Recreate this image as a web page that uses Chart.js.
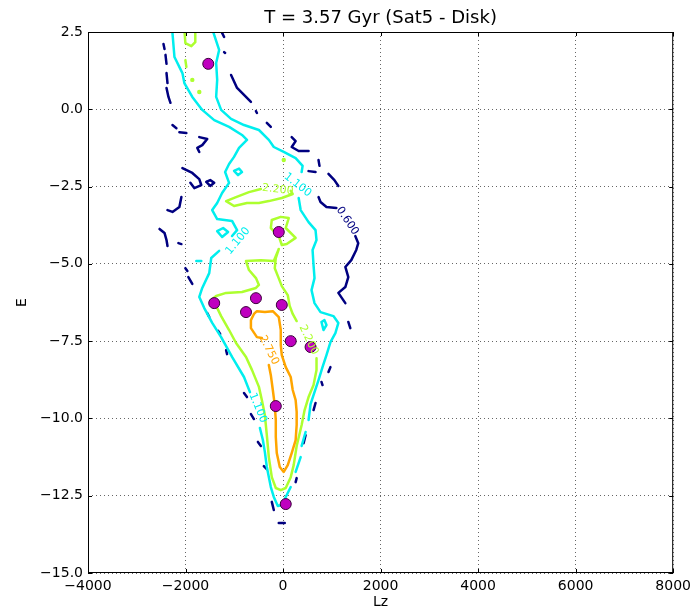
<!DOCTYPE html>
<html lang="en">
<head>
<meta charset="UTF-8">
<title>T = 3.57 Gyr (Sat5 - Disk)</title>
<script src="https://cdn.jsdelivr.net/npm/chart.js"></script>
<style>
  html, body { margin: 0; padding: 0; background: #fff; }
</style>
</head>
<body>
<canvas id="contours" width="696" height="614"></canvas>
<script>
const chartTitle = 'T = 3.57 Gyr (Sat5 - Disk)';

// axis ticks
const xTicks = [-4000, -2000, 0, 2000, 4000, 6000, 8000];
const yTicks = [-15, -12.5, -10, -7.5, -5, -2.5, 0, 2.5];

// contour levels, lowest first
const levelNames = ['0.600', '1.100', '2.200', '2.750'];
const levelColors = ['#000080', '#00eeee', '#adff2f', '#ffa500'];

// each level is a list of broken pieces, every piece a list of [Lz, E]
const navySegs = [
  [[-2452, 2.11], [-2431, 1.95]],
  [[-2411, 1.76], [-2390, 1.47]],
  [[-2390, 1.17], [-2370, 0.85]],
  [[-2390, 0.69], [-2350, 0.40], [-2309, 0.21]],
  [[-2268, -0.51], [-2187, -0.61]],
  [[-2126, -0.74], [-1983, -0.77]],
  [[-1718, -0.90], [-1555, -0.96], [-1657, -1.16], [-1759, -1.25], [-1718, -1.38]],
  [[-2064, -1.90], [-1861, -2.06], [-1718, -2.26], [-1677, -2.45], [-1820, -2.55], [-1901, -2.38]],
  [[-1575, -2.35], [-1494, -2.29], [-1412, -2.38], [-1494, -2.48], [-1575, -2.35]],
  [[-2085, -2.84], [-2126, -3.16], [-2268, -3.32], [-2370, -3.26]],
  [[-2533, -3.87], [-2431, -4.00], [-2390, -4.23], [-2370, -4.42]],
  [[-2146, -4.33], [-2085, -4.36]],
  [[-2003, -5.14], [-1962, -5.23]],
  [[-1942, -5.43], [-1861, -5.65]],
  [[-1555, -6.59], [-1514, -6.72]],
  [[-1331, -7.17], [-1290, -7.27]],
  [[-1168, -7.79], [-1148, -7.92]],
  [[-801, -9.18], [-740, -9.31]],
  [[-659, -9.86], [-597, -10.02]],
  [[-516, -10.76], [-455, -10.89]],
  [[-394, -11.54], [-333, -11.64]],
  [[-231, -12.70], [-190, -12.96]],
  [[-88, -13.38], [35, -13.38]],
  [[279, -11.93], [258, -12.06]],
  [[421, -10.80], [462, -10.54]],
  [[625, -9.73], [666, -9.50]],
  [[788, -8.82], [809, -8.92]],
  [[931, -8.50], [972, -8.34]],
  [[1338, -6.88], [1379, -7.08]],
  [[727, -2.84], [768, -3.00], [890, -3.16], [1094, -3.19]],
  [[1481, -4.10], [1542, -4.33], [1501, -4.55], [1399, -4.88], [1277, -5.10], [1338, -5.43], [1277, -5.75], [1134, -5.94], [1277, -6.27]],
  [[-1250, 2.47], [-1209, 2.34]],
  [[-1209, 1.85], [-1188, 1.82]],
  [[-1066, 1.11], [-943, 0.69], [-659, 0.24]],
  [[-556, -0.06], [-536, -0.12]],
  [[-333, -0.44], [-251, -0.57]],
  [[177, -0.90], [258, -1.03], [177, -1.22], [320, -1.35], [523, -1.35]],
  [[523, -2.00], [666, -2.03]],
  [[727, -1.64], [747, -1.83]],
  [[931, -2.09], [1053, -2.29], [1134, -2.48]]
];

const cyanSegs = [
  [[-2290, 2.6], [-2268, 2.47], [-2227, 1.69], [-2064, 1.17], [-2024, 0.85], [-1861, 0.40], [-1657, -0.02],
   [-1412, -0.35], [-1107, -0.57], [-842, -0.83], [-740, -0.99], [-903, -1.25], [-1005, -1.54], [-1107, -1.77],
   [-1188, -2.03], [-1107, -2.38], [-1250, -2.71], [-1351, -3.03], [-1453, -3.26], [-1351, -3.55], [-1046, -3.61],
   [-943, -3.91], [-1046, -4.10]],
  [[-1311, -4.58], [-1473, -4.81], [-1514, -5.30], [-1657, -5.78], [-1718, -6.07], [-1616, -6.43], [-1453, -6.91],
   [-1270, -7.37], [-1046, -8.01], [-801, -8.66], [-679, -9.15]],
  [[-475, -10.31], [-414, -10.70], [-373, -11.09], [-333, -11.57], [-251, -12.22], [-190, -12.54], [-108, -12.83],
   [-26, -12.80], [55, -12.54], [157, -12.22]],
  [[258, -11.73], [361, -11.25]],
  [[381, -10.89], [462, -10.44]],
  [[523, -10.05], [564, -9.54], [645, -9.15], [727, -8.76], [809, -8.34], [890, -7.95], [972, -7.53], [1073, -7.24],
   [1134, -6.91], [1033, -6.69], [768, -6.56], [645, -6.27], [584, -5.85], [645, -5.46], [625, -5.04], [605, -4.55],
   [686, -4.23], [666, -3.91], [523, -3.65], [361, -3.26], [320, -2.87]],
  [[381, -2.03], [401, -1.83], [258, -1.58], [14, -1.38], [-190, -1.22], [-292, -0.99], [-495, -0.67], [-801, -0.51],
   [-1066, -0.31], [-1270, -0.02], [-1372, 0.40], [-1351, 0.95], [-1372, 1.50], [-1311, 1.92], [-1453, 2.6]],
  [[-1005, -1.99], [-903, -1.92], [-842, -2.03], [-923, -2.13], [-1005, -1.99]],
  [[-1351, -3.94], [-1229, -3.84], [-1127, -3.97], [-1250, -4.13], [-1351, -3.94]],
  [[788, -6.88], [849, -6.82], [890, -6.98], [829, -7.14], [788, -6.88]],
  [[-1779, -4.91], [-1677, -4.91]]
];

const greenSegs = [
  [[157, -2.64], [198, -2.74], [-26, -2.87], [-292, -2.97], [-495, -3.03], [-740, -3.03], [-1005, -3.13],
   [-1168, -2.97], [-964, -2.84], [-699, -2.68], [-455, -2.58]],
  [[-231, -3.58], [-47, -3.48], [116, -3.52], [55, -3.84], [258, -4.16], [75, -4.36], [-26, -4.39], [-88, -4.10],
   [-251, -3.84], [-231, -3.58]],
  [[279, -6.85], [198, -6.62], [136, -6.36], [96, -6.01], [-26, -5.72], [-108, -5.39], [-170, -5.14], [-149, -4.81],
   [-88, -4.52], [-190, -4.91], [-455, -4.88], [-760, -4.91], [-699, -5.20], [-556, -5.46], [-495, -5.68],
   [-556, -5.78], [-842, -5.91], [-1168, -5.94], [-1372, -6.04], [-1473, -6.17], [-1372, -6.36], [-1270, -6.69],
   [-1107, -7.14], [-964, -7.56], [-760, -8.01], [-638, -8.43], [-495, -8.98], [-434, -9.41], [-373, -9.89],
   [-333, -10.54], [-292, -11.25], [-231, -11.90], [-149, -12.25], [-47, -12.32], [55, -12.25], [157, -11.90],
   [218, -11.51], [279, -10.89], [381, -10.21], [442, -9.73], [523, -9.31], [625, -8.92], [686, -8.43], [686, -8.05]],
  [[-2024, 2.6], [-2003, 2.14], [-1881, 2.04], [-1800, 2.17], [-1800, 2.6]],
  [[-2003, 1.59], [-1983, 1.37]]
];
const greenSpotsLz = [-1861, -1718, 14];
const greenSpotsE = [0.95, 0.56, -1.64];

const orangeSegs = [
  [[-434, -7.40], [-536, -7.37], [-659, -7.08], [-659, -6.82], [-597, -6.62], [-536, -6.53], [-373, -6.56],
   [-210, -6.53], [-88, -6.72], [-47, -7.14], [-47, -7.63], [-26, -7.95], [55, -8.34], [157, -8.66], [198, -9.08],
   [258, -9.41], [279, -9.79], [279, -10.21], [258, -10.70], [177, -11.12], [96, -11.51], [14, -11.73],
   [-67, -11.57], [-129, -11.12], [-149, -10.60], [-149, -10.05], [-170, -9.57], [-210, -9.08], [-251, -8.60],
   [-292, -8.27]]
];

// satellite particles
const dotsLz = [-1534, -88, -1412, -556, -760, -26, 157, 564, -149, 55];
const dotsE = [1.47, -3.97, -6.27, -6.11, -6.56, -6.33, -7.50, -7.69, -9.60, -12.77];

// inline contour labels: level, Lz, E, angle
const contourLabels = [
  [0, 1318, -3.61, 56],
  [1, 299, -2.45, 38],
  [1, -923, -4.26, -50],
  [1, -516, -9.66, 68],
  [2, -108, -2.60, 6],
  [2, 523, -7.46, 65],
  [3, -292, -7.79, 63]
];

const allLevels = [navySegs, cyanSegs, greenSegs, orangeSegs];
const datasets = [];

datasets.push({
  data: dotsLz.map((v, i) => ({ x: v, y: dotsE[i] })),
  pointRadius: 5.5,
  pointBackgroundColor: '#bf00bf',
  pointBorderColor: '#3a003a',
  pointBorderWidth: 1,
  showLine: false,
  order: 0
});
datasets.push({
  data: greenSpotsLz.map((v, i) => ({ x: v, y: greenSpotsE[i] })),
  pointRadius: 2.2,
  pointBackgroundColor: levelColors[2],
  pointBorderWidth: 0,
  showLine: false,
  order: 3
});

allLevels.forEach((segs, lvl) => {
  segs.forEach(seg => {
    datasets.push({
      data: seg.map(p => ({ x: p[0], y: p[1] })),
      showLine: true,
      borderColor: levelColors[lvl],
      borderWidth: 2.5,
      borderJoinStyle: 'round',
      borderCapStyle: 'round',
      pointRadius: 0,
      tension: 0,
      order: 5 - lvl
    });
  });
});

function fmt(v, digits) {
  const s = Math.abs(v).toFixed(digits);
  return v < 0 ? '\u2212' + s : s;
}

// title over the plot area, frame, inward ticks and the contour labels
const framePlugin = {
  id: 'frame',
  afterDatasetsDraw(chart) {
    const { ctx, chartArea: a, scales: { x, y } } = chart;
    ctx.save();
    ctx.font = '11px "DejaVu Sans"';
    ctx.textAlign = 'center';
    ctx.textBaseline = 'middle';
    contourLabels.forEach(l => {
      ctx.save();
      ctx.translate(x.getPixelForValue(l[1]), y.getPixelForValue(l[2]));
      ctx.rotate(l[3] * Math.PI / 180);
      ctx.fillStyle = levelColors[l[0]];
      ctx.fillText(levelNames[l[0]], 0, 0);
      ctx.restore();
    });

    ctx.strokeStyle = '#000';
    ctx.lineWidth = 1;
    ctx.beginPath();
    xTicks.forEach(v => {
      const px = Math.round(x.getPixelForValue(v)) + 0.5;
      ctx.moveTo(px, a.bottom); ctx.lineTo(px, a.bottom - 4);
      ctx.moveTo(px, a.top); ctx.lineTo(px, a.top + 4);
    });
    yTicks.forEach(v => {
      const py = Math.round(y.getPixelForValue(v)) + 0.5;
      ctx.moveTo(a.left, py); ctx.lineTo(a.left + 4, py);
      ctx.moveTo(a.right, py); ctx.lineTo(a.right - 4, py);
    });
    ctx.stroke();
    ctx.strokeRect(a.left + 0.5, a.top + 0.5, a.right - a.left - 1, a.bottom - a.top - 1);

    ctx.fillStyle = '#000';
    ctx.font = '18px "DejaVu Sans"';
    ctx.textBaseline = 'middle';
    ctx.fillText(chartTitle, (a.left + a.right) / 2, a.top - 14);
    ctx.restore();
  }
};

const tickFont = { family: 'DejaVu Sans', size: 14 };

new Chart(document.getElementById('contours'), {
  type: 'scatter',
  data: { datasets: datasets },
  options: {
    responsive: false,
    animation: false,
    layout: { padding: { left: 0, right: 19, top: 32, bottom: 0 } },
    plugins: {
      legend: { display: false },
      tooltip: { enabled: false },
      title: { display: false }
    },
    scales: {
      x: {
        type: 'linear',
        min: -4000,
        max: 8000,
        afterBuildTicks: s => { s.ticks = xTicks.map(v => ({ value: v })); },
        afterFit: s => { s.height = 41; },
        grid: { color: 'rgba(0,0,0,0.6)', lineWidth: 1, drawTicks: false },
        border: { display: false, dash: [1, 3] },
        ticks: { color: '#000', font: tickFont, padding: 5, maxRotation: 0, autoSkip: false,
                 callback: v => fmt(v, 0) },
        title: { display: true, text: 'Lz', color: '#000', font: tickFont, padding: { top: 0, bottom: 3 } }
      },
      y: {
        type: 'linear',
        min: -15,
        max: 2.5,
        afterBuildTicks: s => { s.ticks = yTicks.map(v => ({ value: v })); },
        afterFit: s => { s.width = 88; },
        grid: { color: 'rgba(0,0,0,0.6)', lineWidth: 1, drawTicks: false },
        border: { display: false, dash: [1, 3] },
        ticks: { color: '#000', font: tickFont, padding: 5, autoSkip: false,
                 callback: v => fmt(v, 1) },
        title: { display: true, text: 'E', color: '#000', font: tickFont, padding: { top: 14, bottom: 0 } }
      }
    }
  },
  plugins: [framePlugin]
});
</script>
</body>
</html>
